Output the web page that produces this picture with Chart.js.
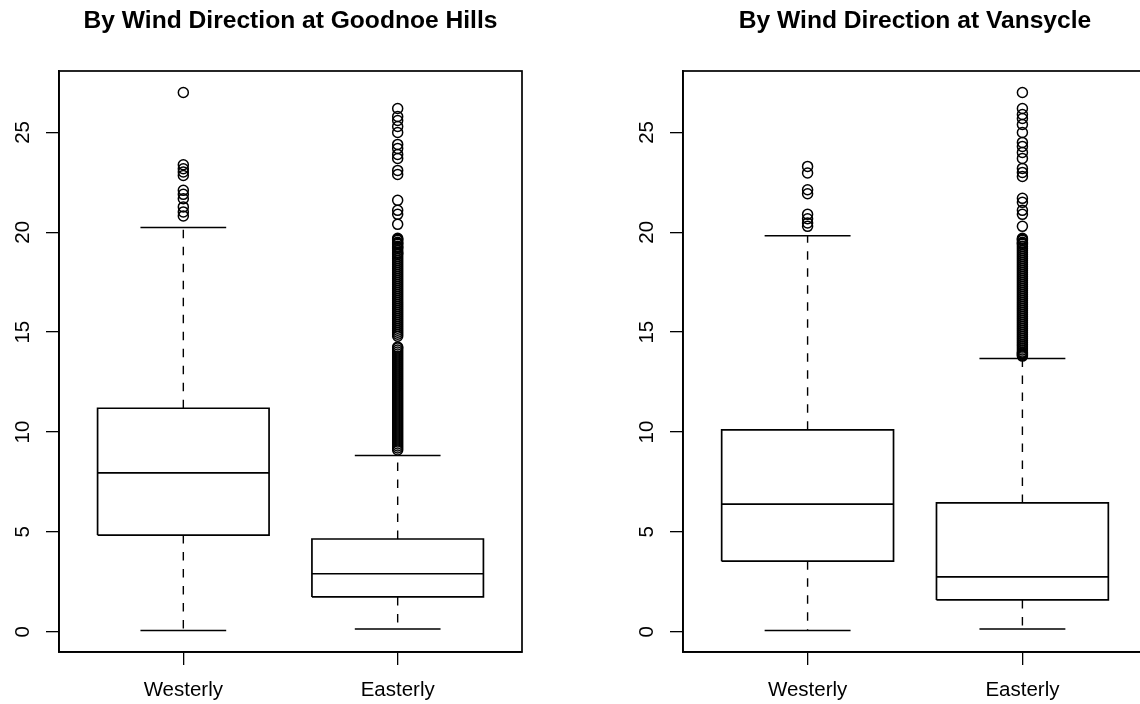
<!DOCTYPE html>
<html>
<head>
<meta charset="utf-8">
<script src="https://cdn.jsdelivr.net/npm/chart.js@4.4.1/dist/chart.umd.min.js"></script>
<style>
    html, body { margin: 0; padding: 0; background: #fff; width: 1140px; height: 704px; overflow: hidden; position: relative; }
    canvas { position: absolute; top: 0; }
    #goodnoe { left: 0; }
    #vansycle { left: 570px; }
</style>
</head>
<body>
<canvas id="goodnoe" width="570" height="704"></canvas>
<canvas id="vansycle" width="640" height="704"></canvas>
<script>
// categories and axis ticks
const categories = ['Westerly', 'Easterly'];
const yTicks = [0, 5, 10, 15, 20, 25];

// boxplot stats per category: [lower whisker, Q1, median, Q3, upper whisker]
const goodnoeStats = [
    [0.06, 4.84, 7.95, 11.19, 20.24],
    [0.14, 1.74, 2.90, 4.64, 8.82]
];
const vansycleStats = [
    [0.06, 3.53, 6.39, 10.11, 19.83],
    [0.14, 1.59, 2.74, 6.45, 13.68]
];

// outliers
const goodnoeWestOut = [27.0, 23.38, 23.18, 23.02, 22.85, 22.1, 21.9, 21.68, 21.27, 21.02, 20.82];
const goodnoeEastOut = [
    26.2, 25.8, 25.6, 25.3, 25.0, 24.4, 24.2, 23.9, 23.7, 23.1, 22.9,
    21.6, 21.1, 20.9, 20.4,
    19.7, 19.65, 19.6, 19.5, 19.45, 19.4, 19.3, 19.25, 19.2, 19.1, 19.0, 18.95, 18.9, 18.8, 18.7,
    18.6, 18.5, 18.4, 18.3, 18.2, 18.1, 18.0, 17.9, 17.8, 17.7, 17.6, 17.5, 17.4, 17.3, 17.2,
    17.1, 17.0, 16.9, 16.8, 16.7, 16.6, 16.5, 16.4, 16.3, 16.2, 16.1, 16.0, 15.9, 15.8, 15.7,
    15.6, 15.5, 15.4, 15.3, 15.2, 15.1, 15.0, 14.9, 14.8,
    14.25, 14.2, 14.1, 14.0, 13.9, 13.8, 13.7, 13.6, 13.5, 13.4, 13.3, 13.2, 13.1, 13.0, 12.9,
    12.8, 12.7, 12.6, 12.5, 12.4, 12.3, 12.2, 12.1, 12.0, 11.9, 11.8, 11.7, 11.6, 11.5, 11.4,
    11.3, 11.2, 11.1, 11.0, 10.9, 10.8, 10.7, 10.6, 10.5, 10.4, 10.3, 10.2, 10.1, 10.0, 9.9,
    9.8, 9.7, 9.6, 9.5, 9.4, 9.3, 9.2, 9.1
];
const vansycleWestOut = [23.3, 22.97, 22.13, 21.93, 20.9, 20.68, 20.47, 20.3];
const vansycleEastOut = [
    27.0, 26.2, 25.9, 25.7, 25.4, 25.0, 24.5, 24.3, 24.0, 23.7, 23.2, 23.0, 22.8,
    21.7, 21.5, 21.1, 20.9, 20.3,
    19.7, 19.65, 19.6, 19.5, 19.45, 19.4, 19.3, 19.2, 19.1, 19.0, 18.9, 18.8, 18.7, 18.6, 18.5,
    18.4, 18.3, 18.2, 18.1, 18.0, 17.9, 17.8, 17.7, 17.6, 17.5, 17.4, 17.3, 17.2, 17.1, 17.0,
    16.9, 16.8, 16.7, 16.6, 16.5, 16.4, 16.3, 16.2, 16.1, 16.0, 15.9, 15.8, 15.7, 15.6, 15.5,
    15.4, 15.3, 15.2, 15.1, 15.0, 14.9, 14.8, 14.7, 14.6, 14.5, 14.4, 14.3, 14.2, 14.1, 14.0,
    13.95, 13.9, 13.85, 13.8
];

const FONT = "'Liberation Sans', Arial, Helvetica, sans-serif";
const AXIS_SIZE = 20.5;
const BOX_HALF = 0.4;
const STAPLE_HALF = 0.2;
const GAP = { x: null, y: null };

function buildDatasets(stats, outliers) {
    const boxes = [], medians = [], whiskers = [], staples = [], points = [];
    stats.forEach((s, i) => {
        const x = i + 1;
        const [lo, q1, med, q3, hi] = s;
        boxes.push({ x: x - BOX_HALF, y: q1 }, { x: x + BOX_HALF, y: q1 }, { x: x + BOX_HALF, y: q3 },
                   { x: x - BOX_HALF, y: q3 }, { x: x - BOX_HALF, y: q1 }, GAP);
        medians.push({ x: x - BOX_HALF, y: med }, { x: x + BOX_HALF, y: med }, GAP);
        whiskers.push({ x: x, y: q1 }, { x: x, y: lo }, GAP, { x: x, y: q3 }, { x: x, y: hi }, GAP);
        staples.push({ x: x - STAPLE_HALF, y: lo }, { x: x + STAPLE_HALF, y: lo }, GAP,
                     { x: x - STAPLE_HALF, y: hi }, { x: x + STAPLE_HALF, y: hi }, GAP);
        outliers[i].forEach(v => points.push({ x: x, y: v }));
    });
    const line = { showLine: true, pointRadius: 0, borderColor: '#000', spanGaps: false, fill: false };
    return [
        { ...line, label: 'box', data: boxes, borderWidth: 1.7 },
        { ...line, label: 'median', data: medians, borderWidth: 1.7 },
        { ...line, label: 'whisker', data: whiskers, borderWidth: 1.4, borderDash: [8.5, 8.5] },
        { ...line, label: 'staple', data: staples, borderWidth: 1.5 },
        { label: 'outliers', data: points, showLine: false, pointRadius: 5, pointBorderWidth: 1.5,
          pointBorderColor: '#000', pointBackgroundColor: 'rgba(0,0,0,0)' }
    ];
}

// frame, rotated y labels and bold title, the way base R draws them
const rDecor = {
    id: 'rDecor',
    afterDraw(chart, args, opts) {
        const { ctx, chartArea } = chart;
        const y = chart.scales.y;
        ctx.save();
        ctx.strokeStyle = '#000';
        ctx.lineWidth = 1.7;
        ctx.strokeRect(chartArea.left, chartArea.top, chartArea.right - chartArea.left, chartArea.bottom - chartArea.top);

        ctx.fillStyle = '#000';
        ctx.font = AXIS_SIZE + 'px ' + FONT;
        ctx.textAlign = 'center';
        ctx.textBaseline = 'alphabetic';
        yTicks.forEach(v => {
            ctx.save();
            ctx.translate(chartArea.left - 30, y.getPixelForValue(v));
            ctx.rotate(-Math.PI / 2);
            ctx.fillText(String(v), 0, 0);
            ctx.restore();
        });

        ctx.font = 'bold ' + (AXIS_SIZE * 1.2) + 'px ' + FONT;
        ctx.fillText(opts.title, (chartArea.left + chartArea.right) / 2, 28);
        ctx.restore();
    }
};

function makeChart(id, title, stats, outliers, padLeft, padRight) {
    const all = stats.flat().concat(outliers.flat());
    const lo = Math.min(...all), hi = Math.max(...all);
    const ext = (hi - lo) * 0.04;
    new Chart(document.getElementById(id), {
        type: 'scatter',
        data: { datasets: buildDatasets(stats, outliers) },
        options: {
            responsive: false,
            devicePixelRatio: 1,
            animation: false,
            events: [],
            layout: { padding: { left: padLeft, right: padRight, top: 71, bottom: 0 } },
            plugins: { legend: { display: false }, tooltip: { enabled: false }, rDecor: { title: title } },
            scales: {
                x: {
                    type: 'linear',
                    min: 0.5 - 0.08, max: categories.length + 0.5 + 0.08,
                    afterBuildTicks: s => { s.ticks = categories.map((_, i) => ({ value: i + 1 })); },
                    afterFit: s => { s.height = 52; },
                    grid: { drawOnChartArea: false, drawTicks: true, tickLength: 13, color: '#000', lineWidth: 1.3 },
                    border: { display: true, color: '#000', width: 1.7 },
                    ticks: {
                        callback: v => categories[v - 1] || '',
                        color: '#000', padding: 13.5, maxRotation: 0,
                        font: { family: FONT, size: AXIS_SIZE }
                    }
                },
                y: {
                    type: 'linear',
                    min: lo - ext, max: hi + ext,
                    afterBuildTicks: s => { s.ticks = yTicks.map(v => ({ value: v })); },
                    afterFit: s => { s.width = 59; },
                    grid: { drawOnChartArea: false, drawTicks: true, tickLength: 13, color: '#000', lineWidth: 1.3 },
                    border: { display: true, color: '#000', width: 1.7 },
                    ticks: { display: false }
                }
            }
        },
        plugins: [rDecor]
    });
}

makeChart('goodnoe', 'By Wind Direction at Goodnoe Hills', goodnoeStats, [goodnoeWestOut, goodnoeEastOut], 0, 48);
makeChart('vansycle', 'By Wind Direction at Vansycle', vansycleStats, [vansycleWestOut, vansycleEastOut], 54, 63);
</script>
</body>
</html>
